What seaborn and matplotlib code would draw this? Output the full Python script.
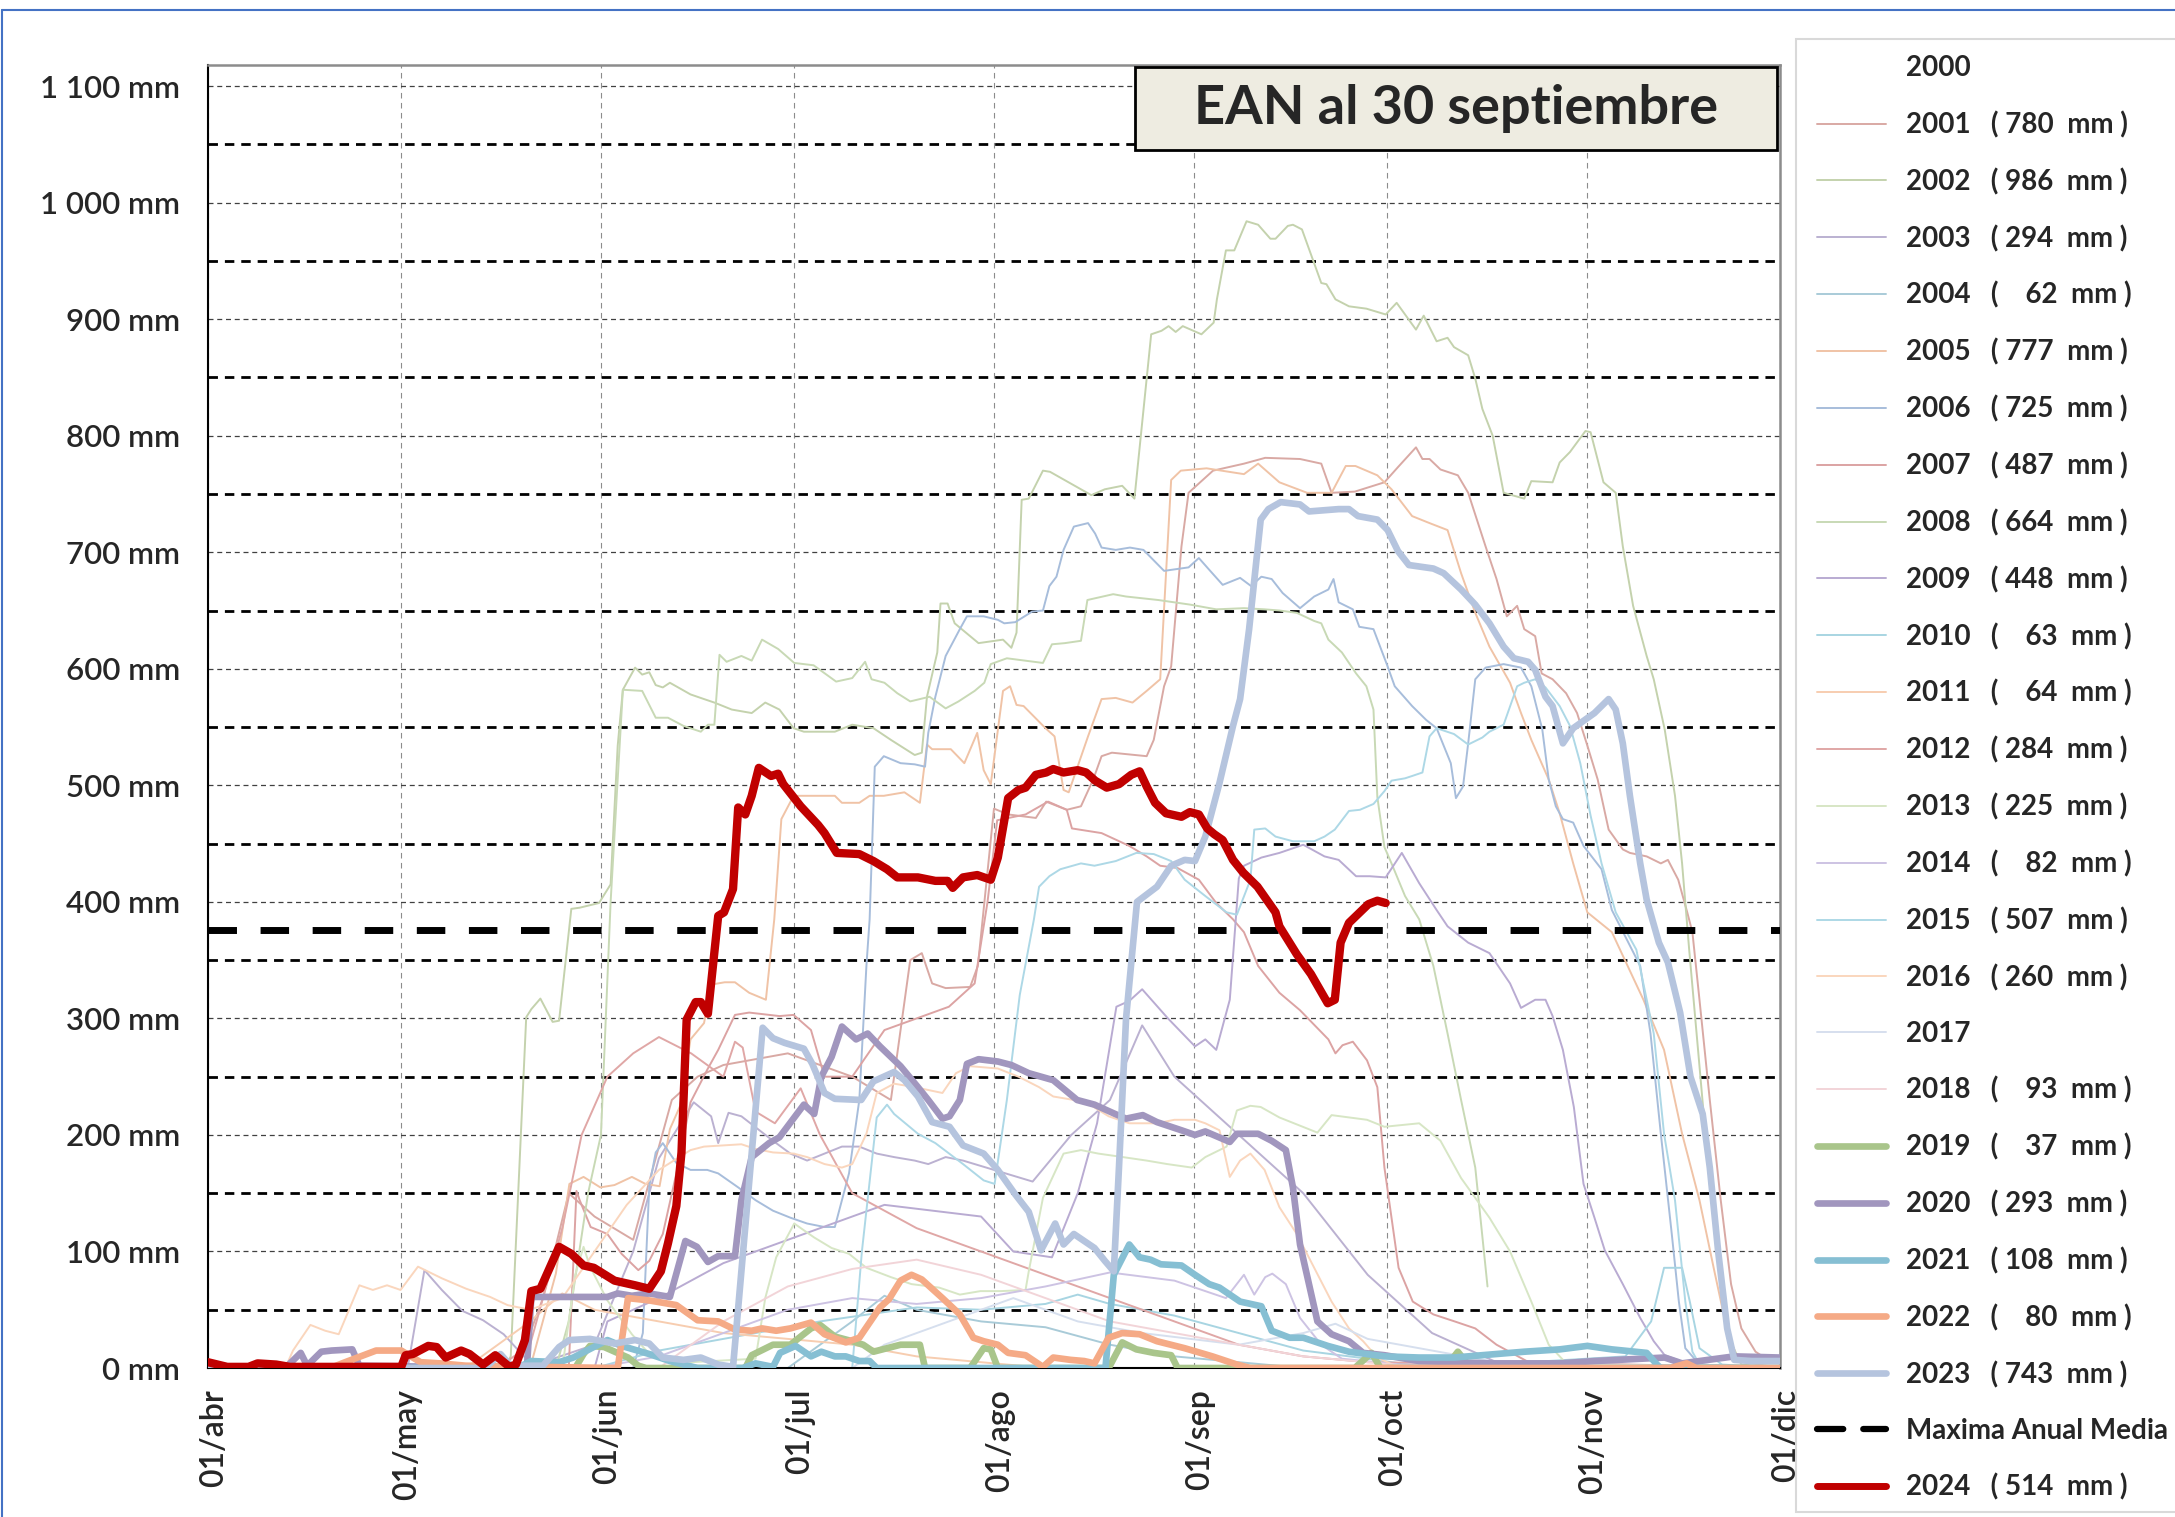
# Snow water equivalent (EAN) by season, 2001-2024, up to 30 September
import numpy as np
import pandas as pd
import seaborn as sb
from matplotlib import pyplot as plt
from matplotlib.lines import Line2D
from matplotlib.patches import Rectangle
from matplotlib.transforms import ScaledTranslation

sb.set_style("white")
plt.rcParams['font.family'] = ['Lato', 'DejaVu Sans']

# x axis: days since 01/abr
MONTH_DAYS = [0, 30, 61, 91, 122, 153, 183, 214, 244]
MONTH_LABELS = ["01/abr", "01/may", "01/jun", "01/jul", "01/ago",
                "01/sep", "01/oct", "01/nov", "01/dic"]
Y_TICKS = list(range(0, 1101, 100))
Y_LABELS = ["0 mm", "100 mm", "200 mm", "300 mm", "400 mm", "500 mm",
            "600 mm", "700 mm", "800 mm", "900 mm", "1 000 mm", "1 100 mm"]
MEAN_MM = 376
TITLE = "EAN al 30 septiembre"

YEARS = [2001, 2002, 2003, 2004, 2005, 2006, 2007, 2008, 2009, 2010, 2011, 2012,
         2013, 2014, 2015, 2016, 2017, 2018, 2019, 2020, 2021, 2022, 2023, 2024]
MAX_MM = [780, 986, 294, 62, 777, 725, 487, 664, 448, 63, 64, 284,
          225, 82, 507, 260, None, 93, 37, 293, 108, 80, 743, 514]
COLORS = ['#d9a9a4', '#c4d2ad', '#bbb1d1', '#a9cbd8', '#f0c3a6', '#a7bddb',
          '#dca3a3', '#c8d9b5', '#b9abd2', '#a8d5e2', '#f7cdb0', '#e0a7a6',
          '#d7e6c5', '#cdc3e3', '#add8e6', '#fad6bd', '#d6dfee', '#f2d4d8',
          '#a9c58b', '#a196be', '#86bfd3', '#f5aa86', '#b5c4de', '#c00000']

# (day, mm)
y2001 = [(0, 0), (48, 0), (52, 60), (56, 150), (60, 130), (66, 110), (72, 230), (76, 250), (80, 260),
         (90, 270), (100, 250), (106, 230), (109, 350), (110.8, 356), (112.4, 330), (114.5, 326),
         (118.3, 327), (119.5, 345), (122, 480), (124.2, 475), (128.5, 472), (130.1, 486), (133.3, 479),
         (135.5, 482), (137.4, 505), (138.7, 525), (140.3, 528), (145.7, 525), (146.8, 539), (148.4, 585),
         (149.5, 602), (151.1, 705), (152.2, 751), (156, 770), (160.8, 776), (164.1, 781), (169.5, 780),
         (172.8, 776), (174.4, 751), (178, 752), (182.6, 760), (184.7, 773), (187.5, 790), (188.5, 780),
         (189.6, 780), (191.3, 771), (194, 766), (195.6, 751), (198.3, 705), (200, 677), (201.6, 645),
         (203.2, 654), (204.3, 634), (206, 628), (207, 596), (208.7, 591), (210.8, 579), (212.5, 562),
         (214.1, 534), (215.7, 505), (217.4, 462), (219.6, 445), (220.7, 442), (223.3, 439), (225.5, 433),
         (226.6, 436), (228.2, 419), (229.6, 391), (230.4, 374), (231.5, 316), (233.1, 230), (234.8, 144),
         (236.4, 72), (238, 34), (240.2, 14), (242.4, 6), (244, 4)]
y2002 = [(0, 0), (46, 0), (47, 10), (49.4, 301), (50.2, 308), (51.6, 317), (53.5, 297), (54.5, 298),
         (56.4, 394), (57.7, 395), (60.7, 399), (62.5, 415), (63.6, 534), (64.4, 582), (66.3, 601),
         (67.4, 595), (68.5, 597), (69.5, 586), (70.6, 584), (71.7, 588), (74.9, 578), (77, 574),
         (78.6, 571), (81.3, 565), (84.4, 562), (86.5, 571), (88.7, 565), (90.9, 549), (92.5, 546),
         (97.3, 546), (100, 552), (103.3, 549), (106, 539), (109.7, 526), (110.8, 528), (111.6, 576),
         (113.2, 614), (113.7, 656), (114.8, 656), (115.9, 639), (119.6, 622), (123.4, 625), (124.7, 618),
         (125.5, 631), (126.3, 745), (127.4, 746), (129.6, 770), (130.7, 769), (137.1, 749), (139.2, 754),
         (141.9, 757), (143.8, 746), (146.4, 887), (148, 890), (149.1, 894), (150.2, 889), (151.3, 894),
         (154.2, 887), (156.1, 897), (156.6, 917), (158, 959), (159.3, 959), (161.2, 984), (163, 981),
         (164.9, 969), (165.7, 969), (167.6, 980), (168.4, 981), (169.8, 977), (172.8, 931), (173.6, 930),
         (175, 917), (177.1, 911), (179.8, 909), (182.8, 904), (184.5, 914), (187.5, 891), (188.7, 903),
         (190.7, 881), (192.4, 884), (193.4, 876), (195.6, 869), (196.7, 849), (197.8, 823), (199.4, 800),
         (201.1, 751), (204.3, 746), (205.4, 761), (208.7, 760), (209.8, 777), (211.4, 786), (213.8, 804),
         (214.6, 803), (216.6, 760), (218.5, 751), (219.6, 705), (221.2, 654), (223.3, 611), (224.4, 591),
         (226.1, 548), (227.7, 491), (228.8, 433), (229.9, 359), (231.5, 259), (233.1, 158), (234.8, 72),
         (235.8, 29), (238, 3), (244, 0)]
y2003 = [(0, 0), (31, 0), (33.6, 84), (36.3, 67), (39.5, 49), (42.7, 41), (45.9, 29), (49.2, 9), (52, 5),
         (60, 20), (66, 100), (70, 180), (75.4, 228), (78.1, 216), (79.2, 193), (80.8, 219), (82.8, 216),
         (87.7, 195), (90.4, 184), (93, 178), (95.7, 184), (98.4, 190), (101.1, 190), (103.8, 184),
         (106.5, 181), (109.7, 178), (111.8, 175), (114.5, 181), (117.2, 178), (122, 170), (128, 160),
         (134, 200), (140, 230), (145, 294), (150, 250), (160, 200), (170, 150), (180, 80), (190, 30),
         (200, 5), (244, 0)]
y2004 = [(0, 0), (90, 0), (95, 20), (100, 40), (105, 62), (110, 50), (115, 45), (120, 40), (130, 35),
         (140, 20), (150, 10), (160, 5), (170, 0), (244, 0)]
y2005 = [(0, 0), (50, 0), (54, 81), (56.1, 158), (58.3, 164), (60.9, 155), (63.1, 157), (65.8, 164),
         (67.9, 158), (70.1, 156), (71.7, 205), (73.3, 225), (74.9, 282), (77, 296), (78.1, 329),
         (80.2, 331), (81.8, 331), (84, 322), (86.6, 316), (87.9, 385), (89, 471), (90.9, 491), (97.3, 491),
         (98.4, 485), (101.1, 485), (102.7, 491), (104.9, 491), (108.1, 494), (110.5, 485), (111.6, 535),
         (112.4, 531), (115.3, 531), (117.4, 519), (119.4, 545), (120.4, 513), (121.5, 501), (123.4, 581),
         (124.5, 585), (125.5, 569), (126.6, 568), (130, 549), (131.4, 542), (132.8, 496), (133.6, 494),
         (136.6, 542), (138.7, 574), (140.9, 575), (143.5, 571), (145.7, 581), (147.8, 591), (149.5, 762),
         (151, 770), (155, 772), (160.8, 767), (163, 776), (166.3, 760), (170.6, 751), (174.4, 751),
         (176.6, 774), (178.1, 774), (179.8, 770), (181.5, 766), (183.7, 754), (186.9, 731), (189.6, 725),
         (192.4, 719), (194.5, 682), (196.7, 648), (198.9, 619), (202.1, 588), (203.8, 562), (205.4, 539),
         (208.1, 505), (209.8, 476), (211.9, 433), (214.1, 391), (217.9, 374), (222.8, 316), (226, 273),
         (228.8, 201), (231.5, 144), (233.7, 86), (235.8, 32), (237.5, 6), (244, 0)]
y2006 = [(0, 0), (66, 0), (67.5, 30), (68.5, 156), (69.5, 185), (70.6, 193), (72.7, 176), (74.9, 170),
         (77.5, 170), (79.2, 167), (82.3, 155), (85, 144), (87.7, 135), (90.4, 129), (93, 124), (95.7, 121),
         (97.3, 121), (99.5, 167), (101.1, 230), (102.2, 345), (102.7, 385), (103.5, 516), (104.9, 525),
         (107.5, 519), (109.7, 518), (111.3, 516), (111.8, 545), (112.9, 576), (114.5, 611), (116.7, 634),
         (117.8, 645), (120.4, 645), (122.6, 642), (123.6, 639), (125.3, 640), (127.9, 649), (129.6, 650),
         (130.6, 671), (131.7, 679), (132.8, 702), (134.4, 722), (136.6, 725), (137.7, 716), (138.7, 704),
         (140.9, 702), (143.1, 704), (145.2, 702), (148.4, 684), (152.2, 687), (153.8, 695), (155.4, 685),
         (157.5, 672), (160.2, 678), (161.9, 671), (163.5, 679), (165.1, 677), (166.8, 665), (169.5, 652),
         (171.7, 662), (173.9, 668), (174.7, 677), (175.5, 657), (177.7, 651), (178.7, 636), (180.9, 634),
         (183.1, 602), (184.2, 585), (186.9, 568), (189.1, 556), (190.7, 549), (192.9, 519), (193.7, 489),
         (194.8, 499), (195.6, 536), (196.7, 591), (198.3, 601), (201.1, 604), (203.8, 601), (205.4, 585),
         (207.1, 548), (208.1, 505), (209.2, 482), (210.3, 471), (211.9, 468), (213.5, 448), (216.3, 428),
         (217.9, 393), (222.3, 345), (223.9, 287), (225.5, 201), (227.2, 115), (228.3, 57), (229.3, 17),
         (231.5, 3), (244, 0)]
y2007 = [(0, 0), (56, 0), (57.2, 152), (57.7, 144), (59.4, 121), (62, 115), (64.2, 98), (66.8, 84),
         (68.5, 92), (70.6, 115), (72.7, 167), (74.9, 228), (77.5, 256), (79.2, 273), (81.8, 303), (84, 305),
         (88.7, 302), (90.9, 303), (93.6, 290), (95.7, 250), (100, 250), (105, 290), (110, 300), (115, 310),
         (119, 330), (121, 400), (122.5, 470), (126.9, 475), (130.4, 486), (133.3, 479), (134.1, 463),
         (138.7, 459), (143, 448), (145.7, 439), (147.8, 431), (150.5, 429), (153.8, 419), (156.5, 399),
         (159.1, 385), (160.8, 374), (163, 345), (166.3, 322), (169.5, 307), (173.9, 282), (175, 270),
         (176.1, 277), (177.7, 280), (179.9, 264), (181.5, 241), (182.6, 172), (184.8, 86), (187, 57),
         (190.2, 46), (193.5, 40), (196.7, 34), (200, 20), (205, 5), (244, 0)]
y2008 = [(0, 0), (54, 0), (56, 40), (59, 150), (61, 200), (62.5, 400), (64.4, 582), (67.4, 581),
         (69.5, 558), (71.4, 558), (73.8, 551), (76.5, 546), (77.6, 552), (78.6, 552), (79.4, 612),
         (80.5, 606), (82.8, 611), (84.4, 607), (86, 625), (88.5, 617), (91, 605), (94, 603), (97.5, 589),
         (100, 592), (102, 606), (103, 591), (105, 588), (107, 579), (109, 572), (112, 576), (114.5, 566),
         (116.5, 572), (119, 581), (120.5, 588), (121.5, 604), (124, 609), (129.6, 605), (131, 621),
         (133, 622), (135.5, 624), (136.5, 659), (140.5, 664), (142.5, 662), (147.5, 659), (152.5, 655),
         (156.5, 651), (160.8, 652), (164, 651), (166.3, 650), (169, 648), (171.7, 641), (172.8, 639),
         (173.9, 625), (176, 614), (178.2, 596), (179.8, 585), (180.9, 565), (181.5, 490), (182.6, 447),
         (183.7, 433), (185.8, 405), (188, 385), (190.2, 345), (192.4, 287), (194.5, 230), (196.7, 172),
         (198.6, 70)]
y2009 = [(0, 0), (60, 0), (62, 40), (70, 60), (80, 90), (95, 120), (105, 140), (120, 130), (125, 100),
         (131, 95), (135, 150), (138, 210), (141, 310), (143, 315), (145, 325), (149, 300), (153.2, 276),
         (154.8, 282), (156.5, 273), (158.6, 316), (160, 420), (160.8, 431), (163.5, 438), (166.3, 442),
         (170, 449), (173.3, 439), (175.5, 436), (178.2, 422), (180.3, 422), (182.8, 421), (185.3, 442),
         (188, 416), (190.7, 393), (192.4, 379), (195.6, 365), (198.9, 356), (202.1, 330), (203.8, 309),
         (206, 316), (207.6, 316), (208.7, 302), (210.3, 273), (212, 224), (213.5, 158), (215.2, 129),
         (216.8, 101), (219.6, 72), (222.3, 43), (224.4, 23), (226.1, 11), (230, 3), (244, 0)]
y2010 = [(0, 0), (60, 0), (70, 15), (85, 30), (95, 40), (110, 52), (120, 50), (130, 55), (135, 63),
         (140, 55), (150, 45), (160, 30), (170, 15), (180, 8), (190, 0), (220, 10), (224, 40), (226, 86),
         (228.8, 86), (230, 57), (231.5, 17), (235, 3), (244, 0)]
y2011 = [(0, 0), (40, 0), (45, 20), (50, 40), (55, 64), (60, 50), (70, 40), (80, 30), (90, 25),
         (100, 20), (110, 10), (120, 5), (130, 0), (244, 0)]
y2012 = [(0, 0), (45, 0), (50, 20), (55, 120), (58, 200), (62, 250), (66, 270), (70, 284), (75, 270),
         (80, 250), (81.8, 280), (83, 275), (85, 220), (88, 210), (92, 240), (95, 200), (100, 150),
         (110, 120), (120, 100), (130, 80), (140, 60), (150, 40), (160, 20), (170, 10), (180, 5), (244, 0)]
y2013 = [(0, 0), (55, 0), (57, 80), (58.3, 104), (59.3, 87), (62, 58), (65.8, 29), (68.5, 12), (75, 5),
         (85, 8), (86.5, 60), (88.2, 95), (91, 124), (94.1, 112), (96.8, 103), (99.5, 98), (102.2, 86),
         (106, 78), (109.2, 72), (113.5, 69), (116.7, 63), (119.9, 66), (123.1, 66), (126.9, 67),
         (127.4, 83), (129.6, 146), (132.8, 184), (135.5, 187), (138.2, 184), (142, 181), (145.7, 178),
         (148.9, 175), (152.7, 172), (154.8, 181), (158.1, 190), (159.7, 221), (161.8, 225), (163.4, 224),
         (166.3, 215), (172.2, 202), (174.4, 217), (179.9, 213), (182.6, 207), (188, 210), (191.3, 195),
         (194.5, 163), (198.9, 129), (202.1, 100), (205.4, 57), (208.1, 20), (211, 3), (244, 0)]
y2014 = [(0, 0), (60, 0), (70, 10), (80, 30), (90, 50), (100, 60), (110, 55), (120, 60), (130, 70),
         (140, 82), (150, 75), (158, 60), (160.8, 80), (162.4, 63), (164.1, 78), (165.2, 81), (167.3, 72),
         (169.5, 43), (172.8, 20), (176, 8), (185, 3), (244, 0)]
y2015 = [(0, 0), (100, 0), (101.5, 100), (103.8, 215), (105.4, 226), (106.5, 218), (110.2, 201),
         (112.9, 193), (117.2, 175), (120.4, 161), (122.1, 158), (124, 230), (126, 320), (128.2, 385),
         (129, 413), (130.6, 422), (132.3, 428), (135.5, 433), (137.6, 431), (140.9, 435), (144.1, 442),
         (146.8, 441), (149.5, 435), (151.6, 419), (154.8, 405), (158.1, 391), (159.7, 389), (161.8, 419),
         (162.4, 462), (164.1, 463), (165.7, 456), (168.4, 452), (171.7, 452), (173.3, 456), (174.9, 462),
         (177.1, 478), (178.8, 479), (180.9, 484), (182.6, 495), (183.7, 504), (185.8, 506), (186.9, 508),
         (188.5, 511), (189.6, 542), (190.7, 549), (193.4, 544), (195.6, 535), (197.8, 541), (198.9, 546),
         (201.1, 552), (203.2, 585), (204.3, 588), (206, 591), (207.6, 584), (209.8, 568), (211.4, 551),
         (213, 519), (214.6, 474), (216.3, 433), (218.5, 391), (221.7, 359), (224.4, 287), (226, 201),
         (227.7, 144), (229.3, 57), (230.4, 14), (231.5, 3), (244, 0)]
y2016 = [(0, 0), (12, 0), (13.2, 15), (15.9, 37), (18.2, 32), (20.3, 29), (23.5, 71), (25.6, 67),
         (27.8, 71), (29.9, 67), (32.6, 87), (36.3, 77), (40.1, 68), (43.8, 61), (46.5, 54), (50, 50),
         (55, 60), (60, 100), (65, 140), (70, 170), (74.9, 187), (77, 190), (82.8, 192), (85, 188),
         (87.7, 185), (90.9, 184), (93, 181), (95.7, 175), (98.4, 172), (100, 175), (102.2, 201),
         (103.8, 236), (106.5, 244), (109.7, 241), (114, 236), (116.1, 253), (118.3, 259), (122.6, 257),
         (125.8, 250), (129, 241), (131.2, 233), (134.4, 230), (136.6, 227), (139.8, 216), (143, 210),
         (147.3, 210), (150, 213), (153.2, 213), (154.8, 210), (157, 204), (158.6, 164), (160.2, 178),
         (161.8, 184), (164, 170), (166.3, 138), (169, 115), (171.7, 86), (174.4, 57), (177.1, 34),
         (179.3, 23), (181.5, 9), (185, 0), (244, 0)]
y2017 = [(0, 0), (100, 0), (105, 20), (115, 40), (125, 60), (135, 40), (145, 30), (160, 20), (170, 30),
         (175, 38), (180, 25), (190, 15), (200, 5), (244, 0)]
y2018 = [(0, 0), (70, 0), (80, 40), (90, 70), (100, 85), (110, 93), (120, 80), (130, 60), (140, 40),
         (150, 30), (160, 20), (170, 10), (180, 5), (190, 0), (244, 0)]
y2019 = [(0, 0), (57, 0), (58.3, 12), (59.3, 19), (61.5, 18), (65.2, 9), (66.8, 2), (68, 0), (83.4, 0),
         (84.4, 11), (87.7, 20), (90.4, 20), (93.6, 34), (95, 37), (97.3, 27), (100, 23), (101.7, 20),
         (103.3, 14), (105.4, 17), (107.5, 20), (110.5, 20), (111.3, 0), (118.3, 0), (120.4, 17),
         (121.5, 16), (122.6, 0), (139.8, 0), (141.9, 22), (144.1, 16), (146.8, 13), (149.5, 11),
         (150.5, 0), (178, 0), (180.6, 13), (182, 0), (192, 0), (194, 14), (196, 0), (244, 0)]
y2020 = [(0, 0), (12, 0), (13.3, 7), (14.4, 13), (15.4, 2), (17.6, 14), (19.2, 15), (22.4, 16),
         (23.5, 2), (49.5, 0), (50.2, 61), (62, 61), (63.6, 64), (65.8, 62), (68.5, 64), (71.7, 61),
         (73, 87), (74.1, 109), (75.9, 104), (77.6, 91), (79.2, 96), (81.8, 96), (82.8, 144), (84.4, 181),
         (87.1, 193), (88.7, 198), (92.5, 226), (94.1, 218), (95.2, 250), (96.8, 267), (98.4, 293),
         (100.6, 282), (102.4, 287), (104.3, 276), (107.5, 259), (110.2, 241), (111.8, 230), (114, 214),
         (115.1, 216), (116.7, 230), (117.8, 261), (119.6, 265), (122.6, 263), (124.7, 260), (127.4, 253),
         (131.2, 247), (134.9, 230), (137.6, 226), (140.8, 218), (142.5, 214), (145.1, 217), (147.3, 211),
         (151.1, 204), (153.2, 200), (154.8, 203), (158.6, 194), (159.7, 201), (163, 201), (165.1, 195),
         (167.3, 187), (168.4, 155), (169.5, 106), (172.2, 40), (174.4, 29), (177.1, 23), (179.3, 13),
         (182.6, 11), (188, 6), (198.9, 4), (209.8, 4), (215.2, 6), (226.1, 9), (228.8, 4), (236.9, 10),
         (244, 9)]
y2021 = [(0, 0), (48, 0), (50.2, 6), (54.5, 5), (56.7, 9), (62, 24), (64.2, 19), (68.5, 12), (71.7, 6),
         (73.8, 3), (76, 0), (83, 0), (85, 4), (87.7, 1), (88.8, 13), (91.2, 19), (93.6, 10), (95.2, 14),
         (97.3, 10), (99, 10), (101.1, 6), (102.7, 6), (103.8, 0), (139.3, 0), (140.6, 80), (143, 106),
         (144.6, 95), (146.3, 93), (147.9, 89), (151.1, 88), (153.2, 80), (155.4, 72), (157, 69),
         (160.2, 57), (163.5, 53), (165.1, 32), (167.9, 26), (170, 26), (173.8, 19), (177.1, 14),
         (182.6, 10), (188, 9), (193.4, 9), (204.3, 14), (209.8, 16), (214.1, 19), (217.9, 16), (223.3, 13),
         (224.9, 3), (225.5, 0), (244, 0)]
y2022 = [(0, 0), (19, 0), (21.3, 5), (26.1, 15), (30, 15), (33, 5), (36, 4), (40, 2), (63, 0),
         (63.6, 0), (65.2, 60), (68.5, 58), (72.7, 54), (76, 41), (79.2, 40), (81.8, 33), (84.4, 32),
         (86, 34), (88.2, 32), (90.4, 34), (93.6, 39), (95.7, 29), (99, 22), (101.1, 26), (104.3, 52),
         (105.7, 59), (107.5, 75), (109.2, 80), (110.8, 76), (114, 60), (116.7, 46), (118.8, 26),
         (120.4, 23), (122.6, 20), (124.2, 13), (126.9, 11), (129.6, 1), (131.2, 9), (133.9, 7), (136, 6),
         (137.6, 4), (139.8, 26), (141.9, 30), (144.6, 29), (147.3, 23), (151.6, 17), (155.9, 10),
         (159.7, 3), (161.8, 0), (227, 0), (229.5, 4), (231, 0), (244, 0)]
y2023 = [(0, 0), (43, 0), (45.4, 12), (47, 2), (52, 2), (54.5, 18), (56.1, 24), (59.3, 25), (63.1, 21),
         (66.3, 24), (68.5, 21), (70.6, 9), (73.8, 7), (76.5, 9), (79.2, 3), (81.5, 1), (86.1, 292),
         (87.7, 283), (89.5, 279), (92.5, 274), (93.8, 261), (95.7, 236), (97.3, 231), (101.4, 230),
         (103.3, 246), (106.5, 254), (108.1, 247), (110.2, 233), (112.4, 211), (115.1, 207), (117.2, 191),
         (120.4, 184), (122.6, 170), (125.3, 149), (127.4, 134), (129.3, 101), (131.5, 124), (132.8, 106),
         (134.4, 115), (136, 109), (137.6, 103), (139.2, 92), (140.6, 83), (141.4, 172), (142.5, 300),
         (144.2, 400), (147.3, 413), (149.5, 431), (151.6, 436), (153.2, 435), (154.8, 456), (157, 502),
         (159.1, 551), (160.2, 574), (161.6, 634), (163.4, 728), (164.6, 737), (166.5, 743), (169.5, 741),
         (170.9, 735), (175.5, 737), (177.1, 737), (178.5, 731), (181.5, 728), (183.1, 719), (184.7, 701),
         (186.4, 689), (190.2, 686), (191.8, 682), (194.5, 668), (196.7, 655), (198.9, 639), (201.1, 619),
         (202.7, 609), (204.9, 606), (206, 599), (207.6, 576), (208.7, 568), (210.3, 536), (211.9, 549),
         (215.2, 562), (217.4, 574), (218.5, 565), (219.6, 536), (220.7, 491), (222.3, 433), (223.3, 402),
         (225.2, 365), (226.6, 348), (228.5, 305), (230.1, 250), (232, 218), (233.1, 172), (234.4, 100),
         (235.8, 34), (236.9, 7), (239.6, 6), (244, 6)]
y2024 = [(0, 5), (3, 1), (6.3, 1), (7.7, 4), (10.6, 3), (12.7, 1), (30, 1), (30.7, 11), (31.8, 12),
         (34.2, 19), (35.5, 18), (36.9, 9), (39.3, 15), (40.6, 12), (42.7, 3), (44.6, 11), (46.8, 1),
         (47.8, 3), (49.2, 24), (50.2, 66), (51.6, 68), (54.5, 104), (56.4, 98), (58.3, 88), (59.9, 86),
         (63.1, 75), (66.3, 71), (68.5, 68), (70.3, 83), (71.4, 107), (72.7, 139), (73.5, 185),
         (74.3, 299), (75.7, 314), (76.5, 314), (77.6, 304), (79.2, 388), (80.1, 391), (81.5, 411),
         (82.3, 481), (83.4, 475), (84.4, 491), (85.5, 515), (87.4, 508), (88.5, 510), (89.3, 501),
         (92, 482), (94.7, 466), (95.7, 459), (97.6, 442), (101.1, 441), (103.3, 435), (105.4, 428),
         (107, 421), (110.2, 421), (112.9, 418), (114.8, 418), (115.6, 412), (117.2, 421), (119.4, 423),
         (121.5, 419), (122.6, 438), (124.2, 489), (125.8, 496), (126.9, 498), (128.5, 509), (130.1, 511),
         (131.2, 514), (132.8, 511), (135, 513), (136.3, 511), (137.7, 504), (139.5, 498), (141.4, 501),
         (143.3, 509), (144.6, 512), (145.7, 499), (147, 485), (148.7, 476), (151.1, 473), (152.4, 477),
         (153.8, 475), (155.1, 463), (156.2, 458), (157.5, 453), (159.1, 436), (160.7, 425), (162.9, 413),
         (165.7, 391), (166.3, 379), (169, 355), (171.2, 338), (173.8, 313), (174.9, 316), (175.8, 365),
         (177.1, 382), (180.1, 398), (181.5, 401), (182.8, 399)]

SERIES = [y2001, y2002, y2003, y2004, y2005, y2006, y2007, y2008, y2009, y2010, y2011, y2012,
          y2013, y2014, y2015, y2016, y2017, y2018, y2019, y2020, y2021, y2022, y2023, y2024]

rows = []
for year, pts in zip(YEARS, SERIES):
    for d, v in pts:
        rows.append({"year": year, "day": d, "mm": v})
df = pd.DataFrame(rows)


def legend_label(year, val):
    if val is None:
        return f"{year}"
    pad = "" if val >= 100 else "   "
    return f"{year}   ( {pad}{val}  mm )"


fig = plt.figure(figsize=(21.75, 15.17), dpi=100)
ax = fig.add_axes([0.0956, 0.0982, 0.7228, 0.8589])

# grid
ax.set_xlim(0, 244)
ax.set_ylim(0, 1118)
ax.set_xticks(MONTH_DAYS)
ax.set_xticklabels(MONTH_LABELS, rotation=90, fontsize=23, fontweight='semibold')
ax.set_yticks(Y_TICKS)
ax.set_yticklabels(Y_LABELS, fontsize=22.5, fontweight='semibold')
ax.set_yticks(list(range(50, 1100, 100)), minor=True)
ax.tick_params(axis='y', which='major', length=8, width=1.2, color='black', pad=12)
ax.tick_params(axis='y', which='minor', length=0)
ax.tick_params(axis='x', which='major', length=9, width=1.2, color='black', pad=6)
shift = ScaledTranslation(0.06, 0, fig.dpi_scale_trans)
for lbl in ax.get_xticklabels():
    lbl.set_transform(lbl.get_transform() + shift)
ax.xaxis.grid(True, which='major', color='#8c8c8c', lw=0.8, linestyle=(0, (5, 4)), zorder=0)
ax.yaxis.grid(True, which='major', color='#404040', lw=0.9, linestyle=(0, (4, 3)), zorder=0)
ax.yaxis.grid(True, which='minor', color='black', lw=2.0, linestyle=(0, (3.4, 2.5)), zorder=0)
ax.set_axisbelow(True)
for side in ['left', 'bottom']:
    ax.spines[side].set_color('black')
    ax.spines[side].set_linewidth(1.5)
for side in ['top', 'right']:
    ax.spines[side].set_color('#8c8c8c')
    ax.spines[side].set_linewidth(1.8)

handles = [Line2D([], [], color='none')]
labels = ["2000"]
for i, year in enumerate(YEARS):
    sub = df[df.year == year]
    if year == 2024:
        lw, z = 6.0, 6
    elif year >= 2019:
        lw, z = 4.8, 4
    else:
        lw, z = 1.4, 2
    sb.lineplot(data=sub, x='day', y='mm', ax=ax, color=COLORS[i], lw=lw,
                estimator=None, sort=False, zorder=z, solid_joinstyle='round')
    if year == 2024:
        handles.append(Line2D([], [], color='black', lw=4.5, dashes=(4.2, 3.2),
                              dash_capstyle='round'))
        labels.append("Maxima Anual Media")
    handles.append(Line2D([], [], color=COLORS[i], lw=min(lw, 5.0),
                          solid_capstyle='round'))
    labels.append(legend_label(year, MAX_MM[i]))

ax.axhline(MEAN_MM, color='black', lw=5, dashes=(4.1, 3.4), zorder=5)
ax.set_xlabel("")
ax.set_ylabel("")

# title box
ax.add_patch(Rectangle((0.5897, 0.9348), 0.4083, 0.0637, transform=ax.transAxes,
                       facecolor='#eeece1', edgecolor='black', lw=2, zorder=8))
ax.text(0.794, 0.9666, TITLE, transform=ax.transAxes, ha='center', va='center',
        fontsize=39, fontweight='bold', zorder=9)

# legend panel
fig.patches.append(Rectangle((0.8257, 0.003), 0.3, 0.971, transform=fig.transFigure,
                             facecolor='white', edgecolor='#d9d9d9', lw=1.5, zorder=0))
fig.legend(handles, labels, loc='upper left', bbox_to_anchor=(0.8354, 0.9635),
           frameon=False, prop={'weight': 'bold', 'size': 20},
           handlelength=2.5, handletextpad=0.72, labelspacing=1.07, borderpad=0,
           borderaxespad=0)

# outer frame
fig.add_artist(Line2D([0.0009, 1.0], [0.9934, 0.9934], transform=fig.transFigure,
                      color='#4472c4', lw=1.5))
fig.add_artist(Line2D([0.0009, 0.0009], [0.0, 0.9934], transform=fig.transFigure,
                      color='#4472c4', lw=1.5))

fig.savefig("out.png", dpi=100)
